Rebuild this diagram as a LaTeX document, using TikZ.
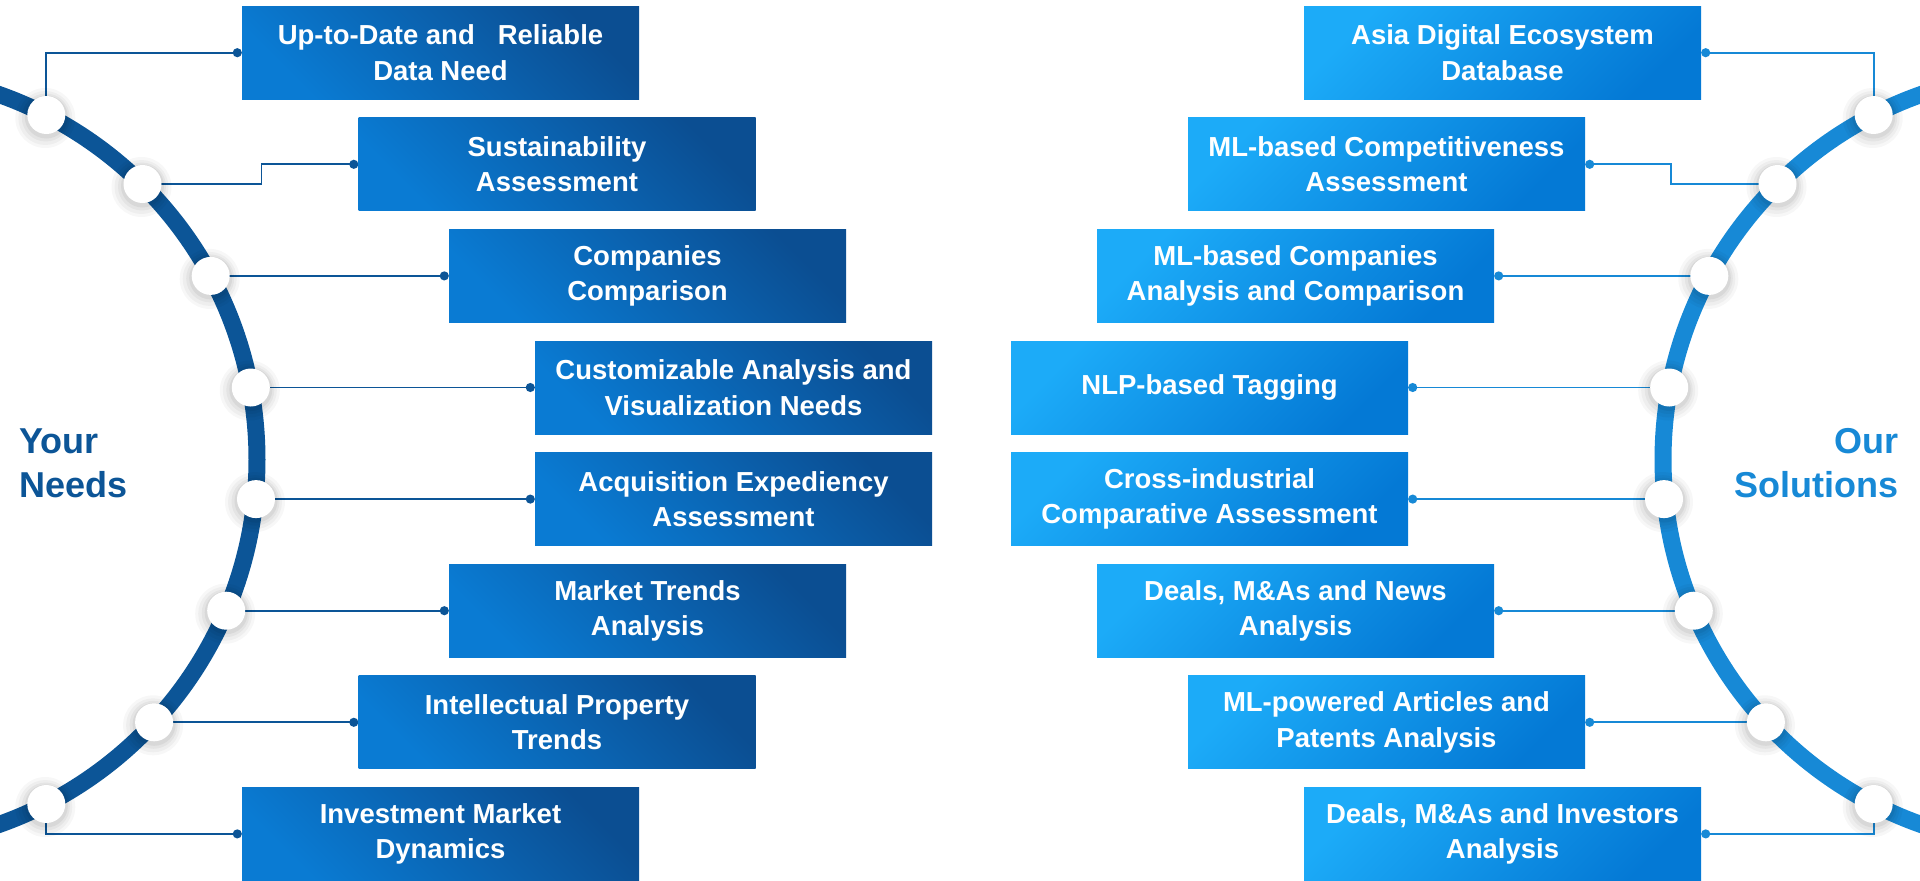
\documentclass[tikz,border=0pt]{standalone}
\usepackage{fontspec}
\setmainfont{Liberation Sans}
\usetikzlibrary{arrows.meta}
\definecolor{ndark}{HTML}{0B4E92}
\definecolor{nlight}{HTML}{0A7BD3}
\definecolor{sdark}{HTML}{0479D5}
\definecolor{slight}{HTML}{1CABF8}
\definecolor{narc}{HTML}{0C5597}
\definecolor{sarc}{HTML}{1789D6}
\pgfdeclarelayer{bg}
\pgfsetlayers{bg,main}
\tikzset{
  boxbase/.style={minimum width=397pt, minimum height=93pt, inner sep=0pt, align=center, text=white,
    font=\bfseries\fontsize{27.5}{35.5}\selectfont},
  needbox/.style={boxbase, left color=nlight, right color=ndark, shading angle=135},
  solbox/.style={boxbase, left color=slight, right color=sdark, shading angle=45},
  pin/.style={circle, fill=white, minimum size=38pt, inner sep=0pt},
  nconn/.style={narc, line width=1.9pt},
  sconn/.style={sarc, line width=1.9pt},
  endtip/.style={-{Circle[length=9pt]}},
  starttip/.style={{Circle[length=9pt]}-},
  title/.style={font=\bfseries\fontsize{36}{44}\selectfont}
}
\newcommand{\pinshadow}[1]{%
  \fill[black,opacity=0.03] ([shift={(-1,3)}]#1) circle[radius=30];
  \fill[black,opacity=0.035] ([shift={(-1,3)}]#1) circle[radius=27];
  \fill[black,opacity=0.04] ([shift={(-0.5,2.5)}]#1) circle[radius=24];
  \fill[black,opacity=0.05] ([shift={(0,2)}]#1) circle[radius=21.5];
}
\begin{document}
\begin{tikzpicture}[x=1pt,y=-1pt]
\useasboundingbox (0,0) rectangle (1920,881);
\begin{scope}
\clip (0,0) rectangle (1920,881);
\begin{pgfonlayer}{bg}
\fill[white] (0,0) rectangle (1920,881);
\draw[narc, line width=17pt] (-130,459.5) circle[radius=387];
\draw[sarc, line width=17pt] (2050,459.5) circle[radius=387];
\end{pgfonlayer}

% pin positions
\coordinate (pl1) at (46.3,115);
\coordinate (pl2) at (142.5,184);
\coordinate (pl3) at (210.7,275.9);
\coordinate (pl4) at (250.8,387.5);
\coordinate (pl5) at (256,499.1);
\coordinate (pl6) at (226.2,610.7);
\coordinate (pl7) at (154.1,722.3);
\coordinate (pl8) at (46.3,804);
\coordinate (pr1) at (1873.7,115);
\coordinate (pr2) at (1777.5,184);
\coordinate (pr3) at (1709.3,275.9);
\coordinate (pr4) at (1669.2,387.5);
\coordinate (pr5) at (1664,499.1);
\coordinate (pr6) at (1693.8,610.7);
\coordinate (pr7) at (1765.9,722.3);
\coordinate (pr8) at (1873.7,804);

\foreach \i in {1,...,8} {\pinshadow{pl\i} \pinshadow{pr\i}}
\foreach \i in {1,...,8} {
  \node[pin] (ld\i) at (pl\i) {};
  \node[pin] (rd\i) at (pr\i) {};
}

% boxes
\node[needbox] (L1) at (440.5,52.7) {Up-to-Date and \ \ Reliable\\Data Need};
\node[needbox] (L2) at (557,164.3) {Sustainability\\Assessment};
\node[needbox] (L3) at (647.5,275.9) {Companies\\Comparison};
\node[needbox] (L4) at (733.5,387.5) {Customizable Analysis and\\Visualization Needs};
\node[needbox] (L5) at (733.5,499.1) {Acquisition Expediency\\Assessment};
\node[needbox] (L6) at (647.5,610.7) {Market Trends\\Analysis};
\node[needbox] (L7) at (557,722.3) {Intellectual Property\\Trends};
\node[needbox] (L8) at (440.5,833.9) {Investment Market\\Dynamics};

\node[solbox] (R1) at (1502.5,52.7) {Asia Digital Ecosystem\\Database};
\node[solbox] (R2) at (1386.5,164.3) {ML-based Competitiveness\\Assessment};
\node[solbox] (R3) at (1295.5,275.9) {ML-based Companies\\Analysis and Comparison};
\node[solbox] (R4) at (1209.5,387.5) {NLP-based Tagging};
\node[solbox] (R5) at (1209.5,499.1) {Cross-industrial\\Comparative Assessment};
\node[solbox] (R6) at (1295.5,610.7) {Deals, M\&As and News\\Analysis};
\node[solbox] (R7) at (1386.5,722.3) {ML-powered Articles and\\Patents Analysis};
\node[solbox] (R8) at (1502.5,833.9) {Deals, M\&As and Investors\\Analysis};

% connectors
\begin{pgfonlayer}{bg}
\draw[nconn, endtip] (ld1.center) |- (L1.west);
\draw[nconn, endtip] (ld2.center) -- ++(119,0) |- (L2.west);
\foreach \i in {3,...,7} {\draw[nconn, endtip] (ld\i.center) -- (L\i.west);}
\draw[nconn, endtip] (ld8.center) |- (L8.west);

\draw[sconn, starttip] (R1.east) -| (rd1.center);
\draw[sconn, starttip] (R2.east) -- ++(86,0) |- (rd2.center);
\foreach \i in {3,...,7} {\draw[sconn, starttip] (R\i.east) -- (rd\i.center);}
\draw[sconn, starttip] (R8.east) -| (rd8.center);
\end{pgfonlayer}

\node[title, text=narc, anchor=west, align=left] (yn) at (16,463) {Your\\Needs};
\node[title, text=sarc, anchor=east, align=right] (os) at (1902,463) {Our\\Solutions};
\end{scope}
\end{tikzpicture}
\end{document}
